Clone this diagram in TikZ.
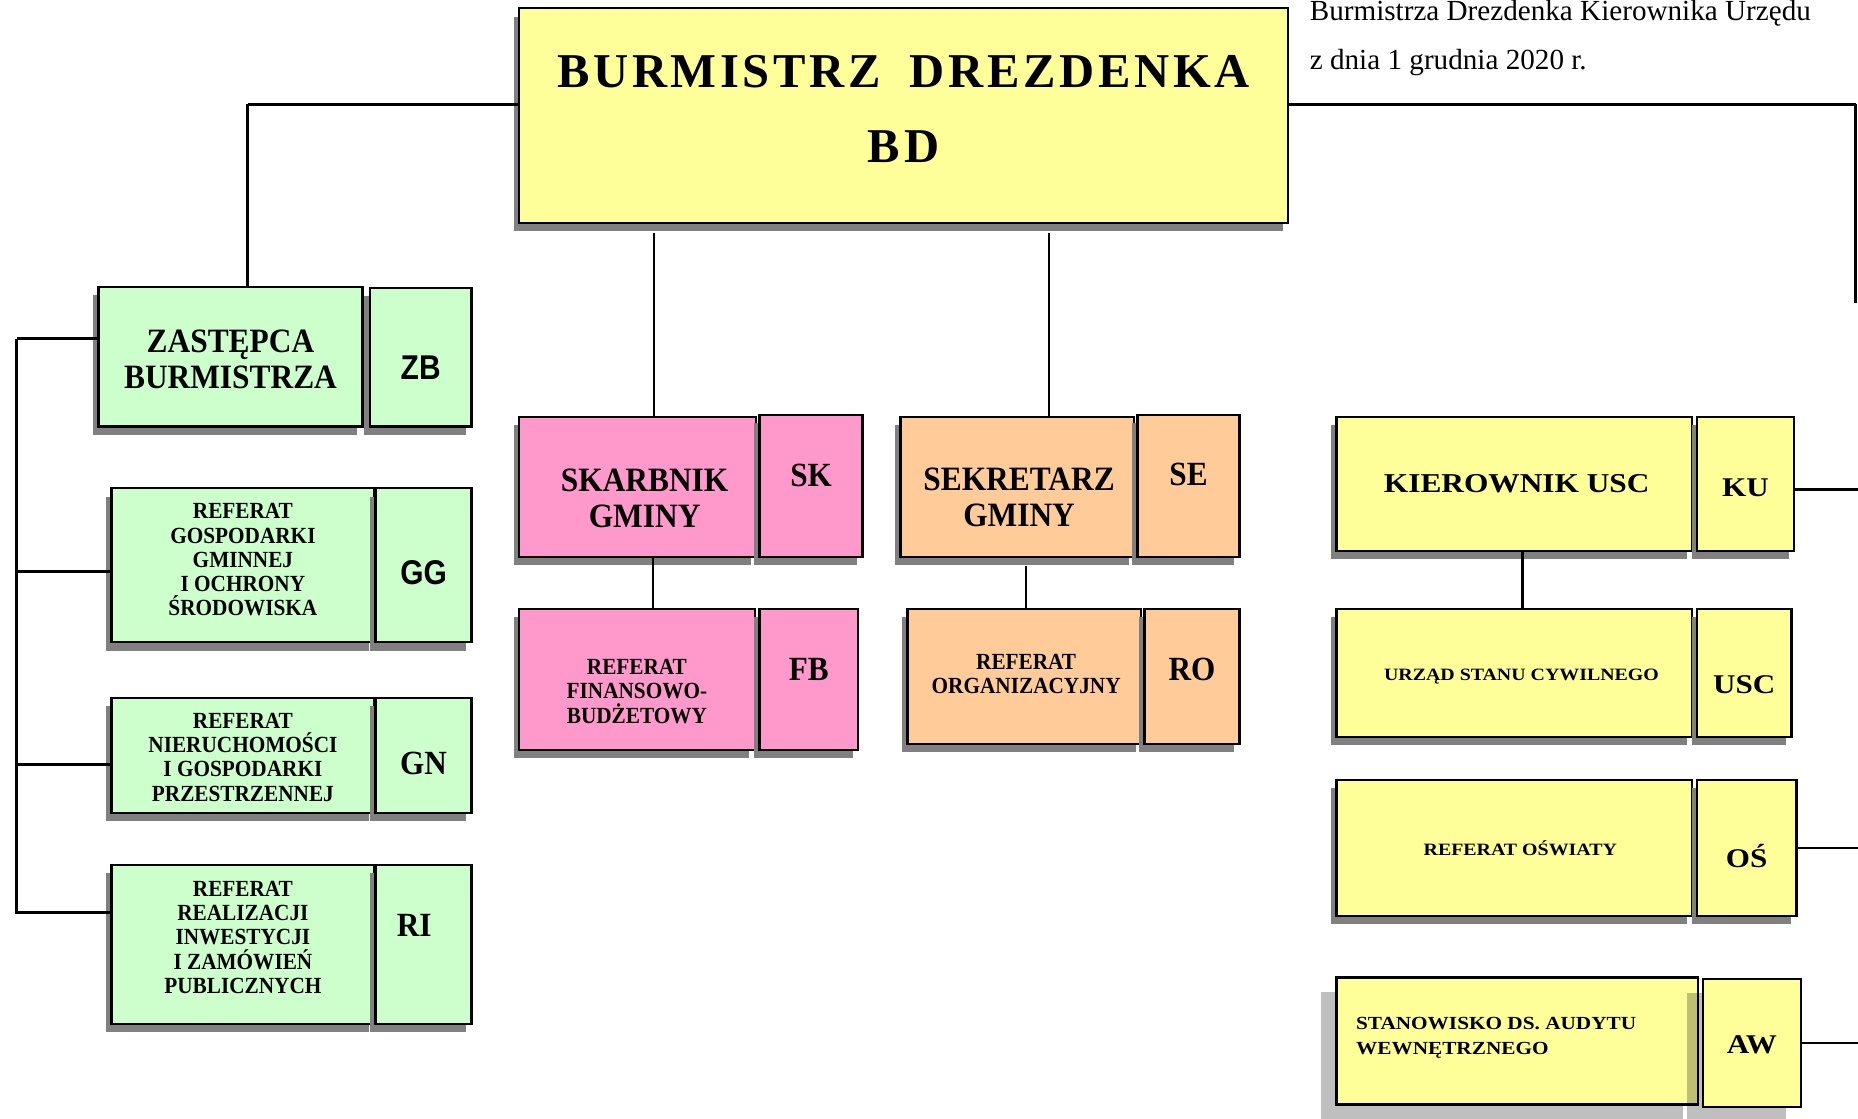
\documentclass[tikz,border=0pt]{standalone}
\usepackage{fontspec}
\setmainfont{Liberation Serif}
\newfontfamily\narrowrm{Liberation Serif}[FakeStretch=0.92]
\newfontfamily\widerm{Liberation Serif}[FakeStretch=1.15]
\newfontfamily\narrowsf{Liberation Sans}[FakeStretch=0.87]
\newfontfamily\titlerm{Liberation Serif}[LetterSpace=7.5]
\usetikzlibrary{positioning}
\usetikzlibrary{shadows}
\definecolor{bdyellow}{HTML}{FFFF99}
\definecolor{greenbox}{HTML}{CCFFCC}
\definecolor{pinkbox}{HTML}{FF99CC}
\definecolor{orangebox}{HTML}{FFCC99}
\definecolor{shadowgray}{HTML}{808080}
\tikzset{unit/.style={draw, line width=1pt, inner sep=0pt, drop shadow={shadow xshift=-2.25pt, shadow yshift=-3.5pt, fill=shadowgray, opacity=1}}}
\tikzset{sz/.style 2 args={minimum width=#1*0.5pt, minimum height=#2*0.5pt}}
\tikzset{gbox/.style={unit, fill=greenbox}, pbox/.style={unit, fill=pinkbox}, obox/.style={unit, fill=orangebox}, ybox/.style={unit, fill=bdyellow}}
\tikzset{awbox/.style={draw, line width=1pt, inner sep=0pt, fill=bdyellow, drop shadow={shadow xshift=-6.5pt, shadow yshift=-6pt, fill=black, opacity=0.25}}}
\tikzset{txt/.style={inner sep=0pt, align=center}}
\tikzset{titletxt/.style={txt, font=\titlerm\bfseries\fontsize{20.5}{32}\selectfont}}
\tikzset{midtxt/.style={txt, font=\narrowrm\bfseries\fontsize{14.4}{15.25}\selectfont}}
\tikzset{smalltxt/.style={txt, font=\narrowrm\bfseries\fontsize{9.75}{10.25}\selectfont}}
\tikzset{codetxt/.style={txt, font=\narrowrm\bfseries\fontsize{14.3}{15}\selectfont}}
\tikzset{sfcode/.style={txt, font=\narrowsf\bfseries\fontsize{14.5}{15}\selectfont}}
\tikzset{widetxt/.style={txt, font=\widerm\bfseries\fontsize{11.5}{12}\selectfont}}
\tikzset{widesmall/.style={txt, font=\widerm\bfseries\fontsize{7.3}{10.5}\selectfont}}
\tikzset{widecode/.style={txt, font=\widerm\bfseries\fontsize{11.4}{12}\selectfont}}
\tikzset{notetxt/.style={inner sep=0pt, align=left, font=\fontsize{12.3}{20.5}\selectfont}}
\tikzset{thickln/.style={line width=1.25pt}, thinln/.style={line width=1pt}}

\begin{document}
\begin{tikzpicture}[x=0.5pt, y=-0.5pt]
\useasboundingbox (0,0) rectangle (1568,944);

%%% Top:

\node[ybox, sz={649}{181}, label={[titletxt, yshift=2.75pt]center:{BURMISTRZ\hspace{0.6em}DREZDENKA\\BD}}] (bd) at (762.5,97.5) {};
\node[notetxt, anchor=north west] (note) at (1105,0) {Burmistrza Drezdenka Kierownika Urzędu\\z dnia 1 grudnia 2020 r.};

%%% Left:

\node[gbox, sz={223}{118}, label={[midtxt, yshift=-1pt]center:{ZASTĘPCA\\BURMISTRZA}}] (zb) at (194.5,301) {};
\node[gbox, sz={86}{117}, label={[sfcode, yshift=-4.25pt]center:ZB}] (zbc) at (355,301.5) {};

\node[gbox, sz={222}{130}, label={[smalltxt, yshift=2.25pt]center:{REFERAT\\GOSPODARKI\\GMINNEJ\\I OCHRONY\\ŚRODOWISKA}}] (gg) at (205,477) {};
\node[gbox, sz={81}{130}, label={[sfcode, yshift=-3pt]center:GG}] (ggc) at (357.5,477) {};

\node[gbox, sz={222}{97}, label={[smalltxt, yshift=-0.75pt]center:{REFERAT\\NIERUCHOMOŚCI\\I GOSPODARKI\\PRZESTRZENNEJ}}] (gn) at (205,637.5) {};
\node[gbox, sz={81}{97}, label={[codetxt, yshift=-3.25pt]center:GN}] (gnc) at (357.5,637.5) {};

\node[gbox, sz={222}{134}, label={[smalltxt, yshift=3pt]center:{REFERAT\\REALIZACJI\\INWESTYCJI\\I ZAMÓWIEŃ\\PUBLICZNYCH}}] (ri) at (205,797) {};
\node[gbox, sz={81}{134}, label={[codetxt, yshift=8pt, xshift=-4pt]center:RI}] (ric) at (357.5,797) {};

%%% Middle:

\node[pbox, sz={200}{118}, label={[midtxt, yshift=-4.75pt, xshift=3pt]center:{SKARBNIK\\GMINY}}] (sk) at (538,411) {};
\node[pbox, sz={87}{120}, label={[codetxt, yshift=4.5pt]center:SK}] (skc) at (684.5,410) {};
\node[pbox, sz={199}{119}, label={[smalltxt, yshift=-5pt]center:{REFERAT\\FINANSOWO-\\BUDŻETOWY}}] (fb) at (537.5,573.5) {};
\node[pbox, sz={83}{119}, label={[codetxt, yshift=4.25pt]center:FB}] (fbc) at (682.5,573.5) {};

\node[obox, sz={197}{118}, label={[midtxt, yshift=-4.5pt, xshift=0.75pt]center:{SEKRETARZ\\GMINY}}] (se) at (858.5,411) {};
\node[obox, sz={86}{120}, label={[codetxt, yshift=5pt]center:SE}] (sec) at (1003,410) {};
\node[obox, sz={197}{114}, label={[smalltxt, yshift=1.25pt, xshift=0.75pt]center:{REFERAT\\ORGANIZACYJNY}}] (ro) at (864.5,571) {};
\node[obox, sz={80}{114}, label={[codetxt, yshift=3pt]center:RO}] (roc) at (1006,571) {};

%%% Right:

\node[ybox, sz={300}{113}, label={[widetxt, xshift=1pt]center:KIEROWNIK USC}] (ku) at (1278,408.5) {};
\node[ybox, sz={82}{113}, label={[widecode, yshift=-1.75pt]center:KU}] (kuc) at (1473,408.5) {};
\node[ybox, sz={300}{108}, label={[widesmall, yshift=-1.5pt, xshift=3pt]center:URZĄD STANU CYWILNEGO}] (usc) at (1278,568) {};
\node[ybox, sz={80}{108}, label={[widecode, yshift=-5pt]center:USC}] (uscc) at (1472,568) {};
\node[ybox, sz={300}{115}, label={[widesmall, xshift=2.5pt]center:REFERAT OŚWIATY}] (os) at (1278,715.5) {};
\node[ybox, sz={84}{115}, label={[widecode, yshift=-3.25pt]center:OŚ}] (osc) at (1474,715.5) {};
\node[awbox, sz={305}{107}, label={[widesmall, align=left, anchor=west, xshift=8.5pt, yshift=1.5pt, font=\widerm\bfseries\fontsize{7.8}{10.5}\selectfont]west:{STANOWISKO DS. AUDYTU\\WEWNĘTRZNEGO}}] (aw) at (1280.5,878.5) {};
\node[awbox, sz={83}{108}, label={[widecode, yshift=-1pt]center:AW}] (awc) at (1478.5,880) {};

%%% Lines:

\coordinate (ltop) at (209,88);
\draw[thickln] ([yshift=4.75pt]bd.west) -- (ltop);
\draw[thinln] (ltop) -- (ltop |- zb.north);

\coordinate (rtop) at (1566,88);
\coordinate (rend) at (1566,256);
\draw[thickln] ([yshift=4.75pt]bd.east) -- (rtop);
\draw[thinln] (rtop) -- (rend);

\coordinate (skup) at (552,197);
\coordinate (seup) at (885,197);
\draw[thinln] (skup) -- (skup |- sk.north);
\draw[thinln] (seup) -- (seup |- se.north);

\coordinate (bustop) at (14,286);
\coordinate (busbot) at (14,770);
\draw[thickln] (bustop) -- (busbot);
\draw[thickln] (bustop) -- (bustop -| zb.west);
\draw[thickln] ([yshift=-2.5pt]gg.west) -- ++(-80,0);
\draw[thickln] ([yshift=-3.75pt]gn.west) -- ++(-80,0);
\draw[thickln] ([yshift=13.5pt]ri.west) -- ++(-80,0);

\draw[thinln] ([xshift=6.5pt]sk.south) -- ([xshift=6.5pt]sk.south |- fb.north);
\draw[thinln] ([xshift=0.75pt]ro.north) -- ++(0,-35);
\draw[thinln] ([xshift=3.5pt]usc.north) -- ([xshift=3.5pt]usc.north |- ku.south);

\draw[thinln] ([yshift=-2.25pt]kuc.east) -- ++(60,0);
\draw[thinln] (osc.east) -- ++(60,0);
\draw[thinln] (awc.east) -- ++(60,0);

\end{tikzpicture}
\end{document}
